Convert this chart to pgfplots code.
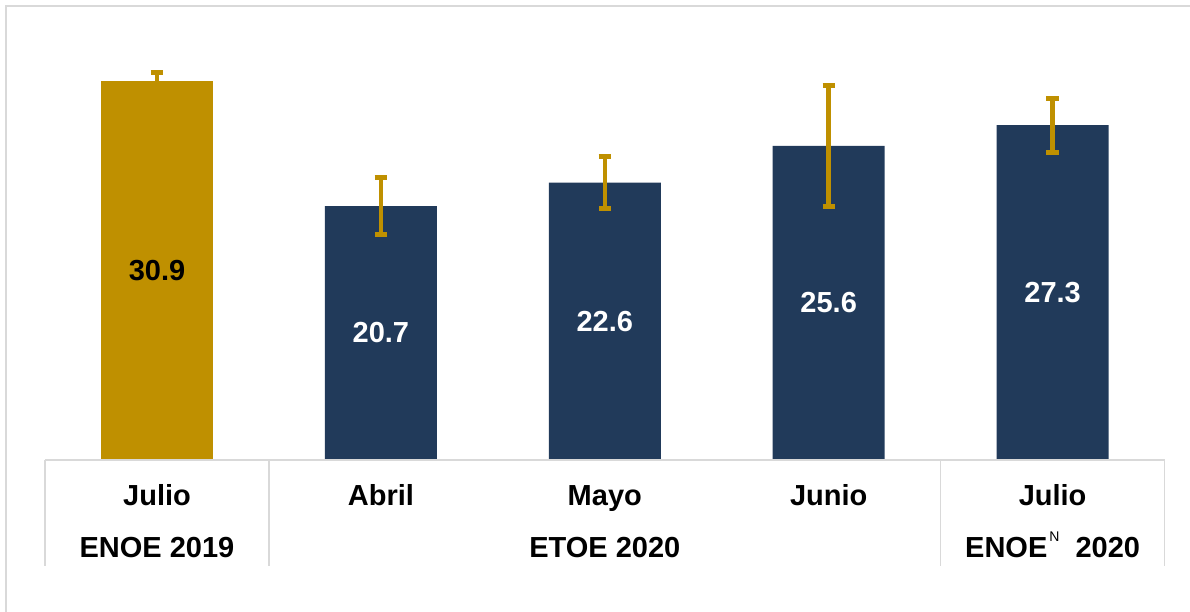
\documentclass[border=0pt]{standalone}
\usepackage{fontspec}
\setmainfont{Liberation Sans}
\usepackage{pgfplots}
\pgfplotsset{compat=1.18}

\definecolor{gold}{HTML}{BF9000}
\definecolor{navy}{HTML}{213A5A}
\definecolor{framegray}{HTML}{D9D9D9}
\newcommand\lblfont{\fontsize{29bp}{34bp}\selectfont\bfseries}

\begin{document}
\begin{tikzpicture}
\path[use as bounding box] (0,0) rectangle (1190bp,612bp);
\draw[framegray, line width=2bp] (6bp,0) -- (6bp,606bp) -- (1190bp,606bp);
\begin{axis}[
    at={(157bp,152bp)}, anchor=origin,
    x=223.9bp, y=12.27bp,
    xmin=-0.5, xmax=4.5,
    ymin=0, ymax=32,
    clip=false,
    axis line style={draw=none},
    major tick length=0pt,
    ytick=\empty,
    xtick={0,1,2,3,4},
    xticklabels={Julio,Abril,Mayo,Junio,Julio},
    xticklabel style={anchor=base, yshift=-45bp, font=\lblfont},
    error bars/y dir=both,
    error bars/y explicit,
    error bars/error bar style={gold, line width=4.5bp},
    error bars/error mark options={gold, rotate=90, mark size=6.2bp, line width=5bp},
]
% ENOE 2019
\addplot[ybar, bar width=112bp, bar shift=0pt, fill=gold, draw=none]
    coordinates {(0,30.9) +- (0,0.66)};
% ETOE 2020 y ENOE^N 2020
\addplot[ybar, bar width=112bp, bar shift=0pt, fill=navy, draw=none]
    coordinates {
    (1,20.7) +- (0,2.35)
    (2,22.6) +- (0,2.12)
    (3,25.6) +- (0,4.9)
    (4,27.3) +- (0,2.2)
    };

% etiquetas de valor, a media altura
\addplot[draw=none, mark=none, nodes near coords, point meta=explicit symbolic,
    nodes near coords style={anchor=center, font=\lblfont, text=black}]
    coordinates {(0,15.45)[30.9]};
\addplot[draw=none, mark=none, nodes near coords, point meta=explicit symbolic,
    nodes near coords style={anchor=center, font=\lblfont, text=white}]
    coordinates {(1,10.35)[20.7] (2,11.3)[22.6] (3,12.8)[25.6] (4,13.65)[27.3]};

% tabla bajo el eje
\draw[framegray, line width=1.5bp] (axis cs:-0.5,0) -- (axis cs:4.5,0);
\draw[framegray, line width=1.5bp] (axis cs:-0.5,0) -- ([yshift=-106bp]axis cs:-0.5,0);
\draw[framegray, line width=1.5bp] (axis cs:0.5,0) -- ([yshift=-106bp]axis cs:0.5,0);
\draw[framegray, line width=1.5bp] (axis cs:3.5,0) -- ([yshift=-106bp]axis cs:3.5,0);
\draw[framegray, line width=1.5bp] (axis cs:4.5,0) -- ([yshift=-106bp]axis cs:4.5,0);

\node[anchor=base, font=\lblfont] at ([yshift=-97bp]axis cs:0,0) {ENOE 2019};
\node[anchor=base, font=\lblfont] at ([yshift=-97bp]axis cs:2,0) {ETOE 2020};
\node[anchor=base, font=\lblfont] at ([yshift=-97bp]axis cs:4,0)
    {ENOE\hspace{2bp}\raisebox{16bp}{\fontsize{14bp}{14bp}\selectfont\mdseries N}\hspace{16bp}2020};
\end{axis}
\end{tikzpicture}
\end{document}
